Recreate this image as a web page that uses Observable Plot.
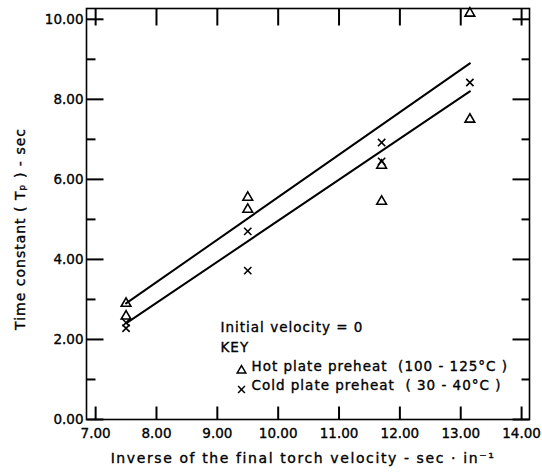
<!DOCTYPE html>
<html>
<head>
<meta charset="utf-8">
<script src="https://cdn.jsdelivr.net/npm/d3@7"></script>
<script src="https://cdn.jsdelivr.net/npm/@observablehq/plot@0.6"></script>
<style>
  body { margin: 0; background: #fff; }
  #chart svg { display: block; font-family: "DejaVu Sans", sans-serif; }
  #chart svg text { letter-spacing: 1px; stroke: black; stroke-width: 0.35px; }
  #chart svg g[aria-label$="tick label"] text { letter-spacing: 0; }
</style>
</head>
<body>
<div id="chart"></div>
<script>
// Time constant vs. inverse of final torch velocity, two preheat conditions
const hotX = [7.5, 7.5, 9.5, 9.5, 11.7, 11.7, 13.15, 13.15];
const hotY = [2.9, 2.58, 5.55, 5.25, 6.35, 5.45, 10.15, 7.5];
const coldX = [7.5, 7.5, 9.5, 9.5, 11.7, 11.7, 13.15];
const coldY = [2.42, 2.28, 4.7, 3.72, 6.92, 6.45, 8.42];

// fitted lines (end points)
const fitX = [7.5, 13.15];
const hotFitY = [2.9, 8.9];
const coldFitY = [2.4, 8.2];

const xTicks = [7, 8, 9, 10, 11, 12, 13, 14];
const yMajor = [0, 2, 4, 6, 8, 10];
const yMinor = [1, 3, 5, 7, 9];

const xTitle = "Inverse of the final torch velocity - sec \u00b7 in\u207b\u00b9";
const yTitle = "Time constant ( T\u209a ) - sec";
const noteLines = ["Initial velocity = 0", "KEY"];
const keyLabels = ["Hot plate preheat  (100 - 125\u00b0C )", "Cold plate preheat  ( 30 - 40\u00b0C )"];
const keySymbols = ["triangle", "times"];

const hot = hotX.map((x, i) => ({x, y: hotY[i]}));
const cold = coldX.map((x, i) => ({x, y: coldY[i]}));
const hotFit = fitX.map((x, i) => ({x, y: hotFitY[i]}));
const coldFit = fitX.map((x, i) => ({x, y: coldFitY[i]}));

const fmt = d3.format(".2f");

// short inward tick strokes, drawn as path symbols anchored on the frame edges
const tickShape = (dx, dy) => ({draw(ctx) { ctx.moveTo(0, 0); ctx.lineTo(dx, dy); }});
const tickStyle = {stroke: "black", strokeWidth: 2, r: 1};

const chart = Plot.plot({
  width: 542,
  height: 473,
  marginTop: 8,
  marginRight: 13,
  marginBottom: 54,
  marginLeft: 86,
  x: {domain: [6.85, 14.13]},
  y: {domain: [0, 10.27]},
  marks: [
    Plot.frame({stroke: "black", strokeWidth: 1.6}),
    // tick labels
    Plot.axisX(xTicks, {tickSize: 0, tickPadding: 9, tickFormat: fmt, fontSize: 13.5, fill: "black", label: null}),
    Plot.axisY(yMajor, {tickSize: 0, tickPadding: 3, tickFormat: fmt, fontSize: 13.5, fill: "black", label: null}),
    // fitted lines
    Plot.line(hotFit, {x: "x", y: "y", stroke: "black", strokeWidth: 2}),
    Plot.line(coldFit, {x: "x", y: "y", stroke: "black", strokeWidth: 2}),
    // observations
    Plot.dot(hot, {x: "x", y: "y", symbol: "triangle", r: 3.6, stroke: "black", strokeWidth: 1.6}),
    Plot.dot(cold, {x: "x", y: "y", symbol: "times", r: 3.4, stroke: "black", strokeWidth: 1.6}),
    // annotation and key
    ...noteLines.map((t, i) => Plot.text([t], {
      text: d => d, frameAnchor: "bottom-left", textAnchor: "start",
      dx: 134, dy: -88 + i * 20, fontSize: 13.5, fill: "black"
    })),
    ...keySymbols.map((s, i) => Plot.dot([s], {
      frameAnchor: "bottom-left", symbol: s, r: 3.2,
      dx: 155, dy: -49 + i * 19, stroke: "black", strokeWidth: 1.5
    })),
    ...keyLabels.map((t, i) => Plot.text([t], {
      text: d => d, frameAnchor: "bottom-left", textAnchor: "start",
      dx: 165, dy: -49 + i * 19, fontSize: 13.5, fill: "black"
    })),
    // axis titles
    Plot.text([xTitle], {
      text: d => d, frameAnchor: "bottom", dx: -5, dy: 43, fontSize: 14, fill: "black"
    }),
    Plot.text([yTitle], {
      text: d => d, frameAnchor: "left", textAnchor: "middle", rotate: -90, dx: -66, dy: 15, fontSize: 14, fill: "black"
    }),
    // inward tick marks on all four sides, drawn on top
    Plot.dot(yMajor, {y: d => d, frameAnchor: "left", symbol: tickShape(17, 0), ...tickStyle}),
    Plot.dot(yMinor, {y: d => d, frameAnchor: "left", symbol: tickShape(9, 0), ...tickStyle}),
    Plot.dot(yMajor, {y: d => d, frameAnchor: "right", symbol: tickShape(-17, 0), ...tickStyle}),
    Plot.dot(yMinor, {y: d => d, frameAnchor: "right", symbol: tickShape(-8, 0), ...tickStyle}),
    Plot.dot(xTicks, {x: d => d, frameAnchor: "bottom", symbol: tickShape(0, -13), ...tickStyle}),
    Plot.dot(xTicks, {x: d => d, frameAnchor: "top", symbol: tickShape(0, 17), ...tickStyle})
  ]
});

document.getElementById("chart").append(chart);
// wider tracking on the horizontal axis title
d3.select(chart).selectAll("text").filter(function() { return this.textContent === xTitle; })
  .style("letter-spacing", "1.6px");
</script>
</body>
</html>
